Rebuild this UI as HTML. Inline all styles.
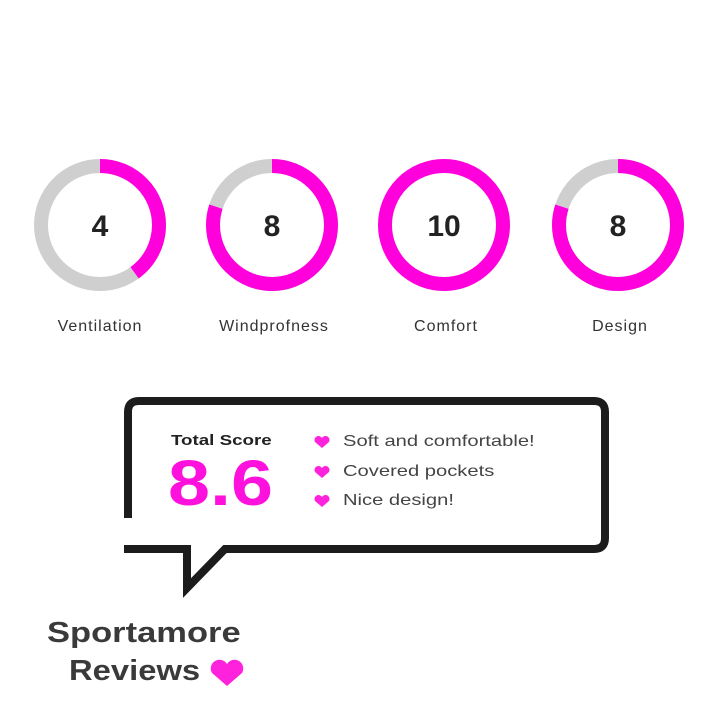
<!DOCTYPE html>
<html><head><style>
body{margin:0;width:720px;height:720px;background:#fff;font-family:"Liberation Sans",sans-serif;position:relative;overflow:hidden}
.t{position:absolute;white-space:nowrap;transform-origin:0 0}
</style></head><body>
<svg width="720" height="720" style="position:absolute;left:0;top:0">
<g fill="none" stroke-width="14">
<circle cx="100" cy="225" r="59" stroke="#cfcfcf"/>
<circle cx="100" cy="225" r="59" stroke="#ff00dd" stroke-dasharray="148.3 400" transform="rotate(-90 100 225)"/>
<circle cx="272" cy="225" r="59" stroke="#cfcfcf"/>
<circle cx="272" cy="225" r="59" stroke="#ff00dd" stroke-dasharray="296.6 400" transform="rotate(-90 272 225)"/>
<circle cx="444" cy="225" r="59" stroke="#ff00dd"/>
<circle cx="618" cy="225" r="59" stroke="#cfcfcf"/>
<circle cx="618" cy="225" r="59" stroke="#ff00dd" stroke-dasharray="296.6 400" transform="rotate(-90 618 225)"/>
</g>
<g font-family="Liberation Sans" font-weight="bold" font-size="30" text-anchor="middle" fill="#222">
<text x="100" y="236">4</text><text x="272" y="236">8</text><text x="444" y="236">10</text><text x="618" y="236">8</text>
</g>
<g font-family="Liberation Sans" font-size="16" text-anchor="middle" fill="#333" letter-spacing="1">
<text x="100" y="331">Ventilation</text><text x="274" y="331">Windprofness</text><text x="446" y="331">Comfort</text><text x="620" y="331">Design</text>
</g>
<path d="M128 518 V412 Q128 401 139 401 H594 Q605 401 605 412 V538 Q605 549 594 549 H225 L187 588 V549 H124" fill="none" stroke="#1c1c1c" stroke-width="8"/>
<g fill="#ff22dd">
<path d="M322 448 l-7 -6 a4 4 0 0 1 7 -4 a4 4 0 0 1 7 4 z"/>
<path d="M322 478 l-7 -6 a4 4 0 0 1 7 -4 a4 4 0 0 1 7 4 z"/>
<path d="M322 507 l-7 -6 a4 4 0 0 1 7 -4 a4 4 0 0 1 7 4 z"/>
<path d="M227 686 l-15 -13 a8 8 0 0 1 15 -9 a8 8 0 0 1 15 9 z"/>
</g>
</svg>
<div class="t" style="left:171px;top:432px;font-size:15px;font-weight:bold;color:#222;transform:scaleX(1.25)">Total Score</div>
<div class="t" style="left:168px;top:446px;font-size:64px;font-weight:bold;color:#ff11dd;transform:scaleX(1.18)">8.6</div>
<div class="t" style="left:343px;top:433px;font-size:16px;color:#444;transform:scaleX(1.26)">Soft and comfortable!</div>
<div class="t" style="left:343px;top:463px;font-size:16px;color:#444;transform:scaleX(1.26)">Covered pockets</div>
<div class="t" style="left:343px;top:492px;font-size:16px;color:#444;transform:scaleX(1.26)">Nice design!</div>
<div class="t" style="left:47px;top:617px;font-size:29px;font-weight:bold;color:#3a3a3a;transform:scaleX(1.19)">Sportamore</div>
<div class="t" style="left:69px;top:655px;font-size:29px;font-weight:bold;color:#3a3a3a;transform:scaleX(1.13)">Reviews</div>
</body></html>
